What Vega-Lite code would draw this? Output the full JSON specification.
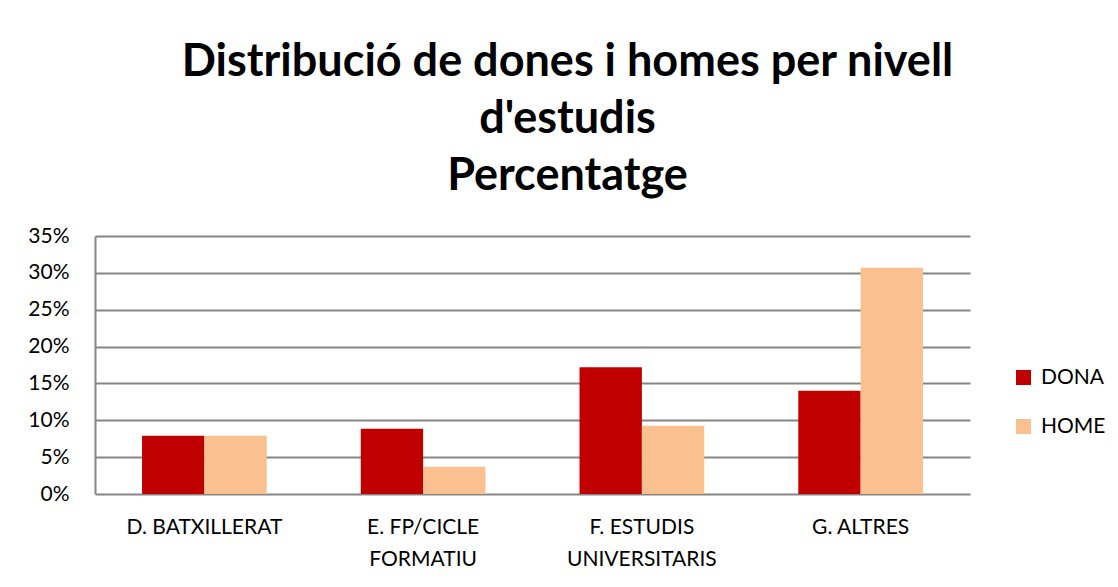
{
  "$schema": "https://vega.github.io/schema/vega-lite/v6.json",
  "width": 875,
  "height": 258,
  "autosize": {"type": "none"},
  "padding": {"left": 95, "top": 236, "right": 148, "bottom": 93},
  "background": "white",
  "title": {
    "text": ["Distribució de dones i homes per nivell", "d'estudis", "Percentatge"],
    "font": "Lato",
    "fontSize": 45,
    "fontWeight": "bold",
    "color": "black",
    "anchor": "middle",
    "dx": 35,
    "offset": 26,
    "lineHeight": 57
  },
  "data": {
    "values": [
      {"nivell": "D. BATXILLERAT", "sexe": "DONA", "pct": 0.079},
      {"nivell": "D. BATXILLERAT", "sexe": "HOME", "pct": 0.079},
      {"nivell": "E. FP/CICLE FORMATIU", "sexe": "DONA", "pct": 0.0886},
      {"nivell": "E. FP/CICLE FORMATIU", "sexe": "HOME", "pct": 0.037},
      {"nivell": "F. ESTUDIS UNIVERSITARIS", "sexe": "DONA", "pct": 0.172},
      {"nivell": "F. ESTUDIS UNIVERSITARIS", "sexe": "HOME", "pct": 0.0927},
      {"nivell": "G. ALTRES", "sexe": "DONA", "pct": 0.14},
      {"nivell": "G. ALTRES", "sexe": "HOME", "pct": 0.307}
    ]
  },
  "mark": {"type": "bar"},
  "encoding": {
    "x": {
      "field": "nivell",
      "type": "nominal",
      "sort": null,
      "title": null,
      "scale": {"paddingInner": 0.43, "paddingOuter": 0.215},
      "axis": {
        "labelAngle": 0,
        "labelFont": "Lato",
        "labelFontSize": 21,
        "labelColor": "black",
        "labelPadding": 22,
        "labelLineHeight": 32,
        "labelBaseline": "top",
        "ticks": false,
        "domain": false,
        "labelExpr": "datum.label == 'E. FP/CICLE FORMATIU' ? ['E. FP/CICLE', 'FORMATIU'] : datum.label == 'F. ESTUDIS UNIVERSITARIS' ? ['F. ESTUDIS', 'UNIVERSITARIS'] : datum.label"
      }
    },
    "xOffset": {"field": "sexe", "type": "nominal", "scale": {"paddingInner": 0, "paddingOuter": 0}},
    "y": {
      "field": "pct",
      "type": "quantitative",
      "title": null,
      "scale": {"domain": [0, 0.35], "nice": false},
      "axis": {
        "values": [0, 0.05, 0.1, 0.15, 0.2, 0.25, 0.3, 0.35],
        "format": ".0%",
        "labelFont": "Lato",
        "labelFontSize": 21,
        "labelColor": "black",
        "labelPadding": 26,
        "ticks": false,
        "domain": true,
        "domainColor": "#868686",
        "domainWidth": 2,
        "gridColor": "#868686",
        "gridWidth": 2
      }
    },
    "color": {
      "field": "sexe",
      "type": "nominal",
      "title": null,
      "scale": {"domain": ["DONA", "HOME"], "range": ["#C00000", "#FAC090"]},
      "legend": {
        "orient": "none",
        "legendX": 918,
        "legendY": 131,
        "symbolType": "square",
        "symbolSize": 225,
        "symbolStrokeWidth": 0,
        "labelFont": "Lato",
        "labelFontSize": 21,
        "labelColor": "black",
        "labelOffset": 7,
        "rowPadding": 27
      }
    }
  },
  "config": {
    "view": {"stroke": null}
  }
}
